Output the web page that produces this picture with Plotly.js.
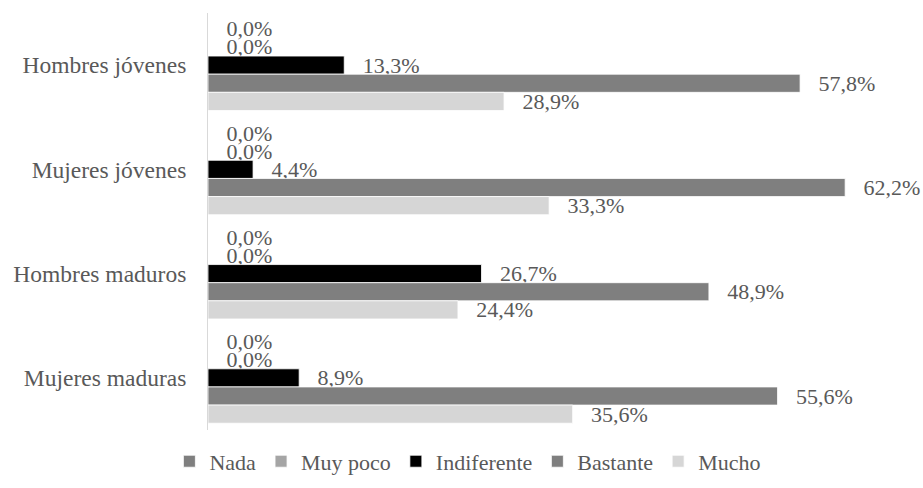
<!DOCTYPE html>
<html>
<head>
<meta charset="utf-8">
<script src="https://cdn.plot.ly/plotly-3.0.1.min.js"></script>
<style>html,body{margin:0;padding:0;background:#fff;}#chart{width:923px;height:488px;}</style>
</head>
<body>
<div id="chart"></div>
<script>
const categories = ["Hombres jóvenes", "Mujeres jóvenes", "Hombres maduros", "Mujeres maduras"];
const seriesNames = ["Nada", "Muy poco", "Indiferente", "Bastante", "Mucho"];
const nada = [0.0, 0.0, 0.0, 0.0];
const muyPoco = [0.0, 0.0, 0.0, 0.0];
const indiferente = [13.3, 4.4, 26.7, 8.9];
const bastante = [57.8, 62.2, 48.9, 55.6];
const mucho = [28.9, 33.3, 24.4, 35.6];
const colors = ["#7f7f7f", "#a5a5a5", "#000000", "#7f7f7f", "#d6d6d6"];

const allValues = [nada, muyPoco, indiferente, bastante, mucho];
const FONT = '"Liberation Serif", "Times New Roman", serif';
const fmt = v => '\u00a0\u00a0\u2009' + v.toFixed(1).replace('.', ',') + '%';

const traces = allValues.map((vals, i) => ({
  type: 'bar',
  orientation: 'h',
  name: seriesNames[i],
  x: vals,
  y: categories,
  marker: {color: colors[i], line: {color: '#ffffff', width: 0.8}},
  text: vals.map(fmt),
  textposition: 'outside',
  cliponaxis: false,
  textfont: {family: FONT, size: 22, color: '#595959'},
  hoverinfo: 'none'
}));

const layout = {
  width: 923, height: 488,
  margin: {l: 208, r: 0, t: 13, b: 58},
  paper_bgcolor: '#ffffff', plot_bgcolor: '#ffffff',
  barmode: 'group',
  bargap: 0.13,
  bargroupgap: 0,
  font: {family: FONT, size: 22, color: '#595959'},
  xaxis: {range: [0, 69.8], showgrid: false, zeroline: false, showticklabels: false, showline: false, ticks: ''},
  yaxis: {autorange: 'reversed', showgrid: false, zeroline: false, showline: true, linecolor: '#d9d9d9', linewidth: 1, ticks: '', ticklabelstandoff: 16, tickfont: {family: FONT, size: 23.5, color: '#595959'}},
  showlegend: true,
  legend: {orientation: 'h', x: -0.054, xanchor: 'left', y: -0.025, yanchor: 'top', font: {family: FONT, size: 22, color: '#595959'}, itemwidth: 30, traceorder: 'normal'},
  uniformtext: {mode: 'show', minsize: 22}
};

Plotly.newPlot('chart', traces, layout, {displayModeBar: false, staticPlot: true});
</script>
</body>
</html>
